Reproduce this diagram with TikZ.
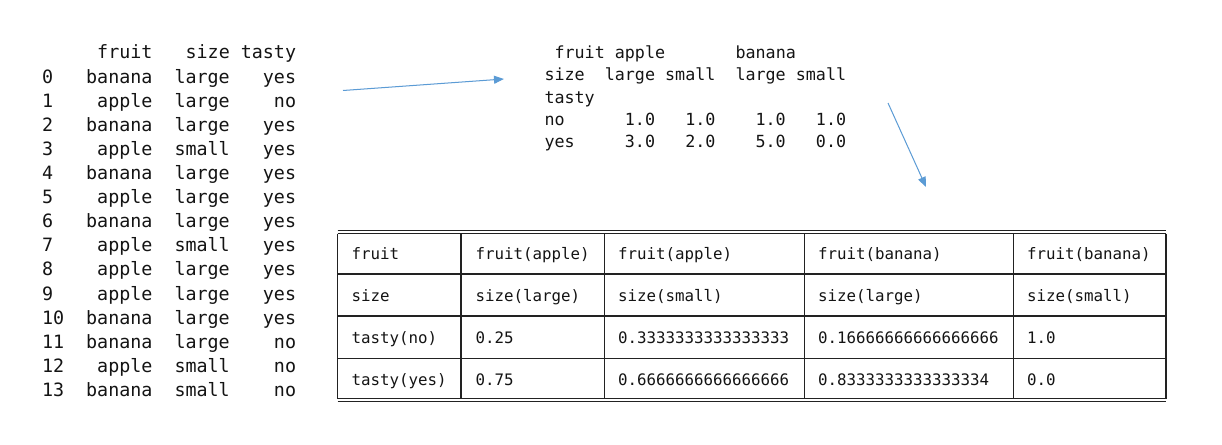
\documentclass[tikz,border=0pt]{standalone}
\usepackage{fontspec}
\newfontfamily\monofam{DejaVu Sans Mono}
\usetikzlibrary{arrows.meta}
\definecolor{txt}{HTML}{141414}
\definecolor{arrowblue}{HTML}{5B9BD5}
\definecolor{rule}{HTML}{222222}
\begin{document}
\begin{tikzpicture}[x=1pt,y=-1pt,
  mono/.style={inner sep=0pt, outer sep=0pt, anchor=base west, text=txt, font=\monofam\fontsize{#1}{#1}\selectfont},
  leftrow/.style={mono=18.35},
  midrow/.style={mono=16.7},
  cell/.style={mono=15.8},
  conn/.style={draw=arrowblue, line width=1pt, -{Triangle[length=10pt,width=8pt]}},
  rulev/.style={draw=rule, line width=1.3pt},
  ruleh/.style={draw=rule, line width=1.2pt},
]
\useasboundingbox (0,0) rectangle (1222,444);
\fill[white] (0,0) rectangle (1222,444);

% ---------- left data frame ----------
\node[leftrow] (lh)  at (42,59)     {\ \ \ \ \ fruit\ \ \ size\ tasty};
\node[leftrow] (l0)  at (42,83.1)   {0\ \ \ banana\ \ large\ \ \ yes};
\node[leftrow] (l1)  at (42,107.2)  {1\ \ \ \ apple\ \ large\ \ \ \ no};
\node[leftrow] (l2)  at (42,131.3)  {2\ \ \ banana\ \ large\ \ \ yes};
\node[leftrow] (l3)  at (42,155.4)  {3\ \ \ \ apple\ \ small\ \ \ yes};
\node[leftrow] (l4)  at (42,179.5)  {4\ \ \ banana\ \ large\ \ \ yes};
\node[leftrow] (l5)  at (42,203.6)  {5\ \ \ \ apple\ \ large\ \ \ yes};
\node[leftrow] (l6)  at (42,227.7)  {6\ \ \ banana\ \ large\ \ \ yes};
\node[leftrow] (l7)  at (42,251.8)  {7\ \ \ \ apple\ \ small\ \ \ yes};
\node[leftrow] (l8)  at (42,275.9)  {8\ \ \ \ apple\ \ large\ \ \ yes};
\node[leftrow] (l9)  at (42,300.0)  {9\ \ \ \ apple\ \ large\ \ \ yes};
\node[leftrow] (l10) at (42,324.1)  {10\ \ banana\ \ large\ \ \ yes};
\node[leftrow] (l11) at (42,348.2)  {11\ \ banana\ \ large\ \ \ \ no};
\node[leftrow] (l12) at (42,372.3)  {12\ \ \ apple\ \ small\ \ \ \ no};
\node[leftrow] (l13) at (42,396.4)  {13\ \ banana\ \ small\ \ \ \ no};

% ---------- middle crosstab ----------
\node[midrow] (m0) at (544.5,59)    {\ fruit\ apple\ \ \ \ \ \ \ banana};
\node[midrow] (m1) at (544.5,81)    {size\ \ large\ small\ \ large\ small};
\node[midrow] (m2) at (544.5,103.2) {tasty};
\node[midrow] (m3) at (544.5,125.4) {no\ \ \ \ \ \ 1.0\ \ \ 1.0\ \ \ \ 1.0\ \ \ 1.0};
\node[midrow] (m4) at (544.5,147.6) {yes\ \ \ \ \ 3.0\ \ \ 2.0\ \ \ \ 5.0\ \ \ 0.0};

% ---------- arrows ----------
\coordinate (a1s) at (343,90.5);
\coordinate (a1e) at (504,79);
\coordinate (a2s) at (888,103);
\coordinate (a2e) at (926,187);
\draw[conn] (a1s) -- (a1e);
\draw[conn] (a2s) -- (a2e);

% ---------- result table ----------
% double top and bottom rules
\draw[ruleh] (337.7,230.6) -- (1166,230.6);
\draw[ruleh] (337.7,233.6) -- (1166,233.6);
\draw[ruleh] (337.7,398.8) -- (1166,398.8);
\draw[ruleh] (337.7,401.8) -- (1166,401.8);
% row rules
\draw[ruleh] (337.7,274) -- (1166,274);
\draw[ruleh] (337.7,316) -- (1166,316);
\draw[ruleh] (337.7,358.3) -- (1166,358.3);
% column rules
\foreach \cx in {337.7,461,604.3,804.3,1013.3,1166}
  \draw[rulev] (\cx,233.6) -- (\cx,398.8);

% cells
\node[cell] (c11) at (351.5,259) {fruit};
\node[cell] (c12) at (475.5,259) {fruit(apple)};
\node[cell] (c13) at (618,259)   {fruit(apple)};
\node[cell] (c14) at (818,259)   {fruit(banana)};
\node[cell] (c15) at (1027,259)  {fruit(banana)};

\node[cell] (c21) at (351.5,301) {size};
\node[cell] (c22) at (475.5,301) {size(large)};
\node[cell] (c23) at (618,301)   {size(small)};
\node[cell] (c24) at (818,301)   {size(large)};
\node[cell] (c25) at (1027,301)  {size(small)};

\node[cell] (c31) at (351.5,343) {tasty(no)};
\node[cell] (c32) at (475.5,343) {0.25};
\node[cell] (c33) at (618,343)   {0.3333333333333333};
\node[cell] (c34) at (818,343)   {0.16666666666666666};
\node[cell] (c35) at (1027,343)  {1.0};

\node[cell] (c41) at (351.5,385) {tasty(yes)};
\node[cell] (c42) at (475.5,385) {0.75};
\node[cell] (c43) at (618,385)   {0.6666666666666666};
\node[cell] (c44) at (818,385)   {0.8333333333333334};
\node[cell] (c45) at (1027,385)  {0.0};
\end{tikzpicture}
\end{document}
